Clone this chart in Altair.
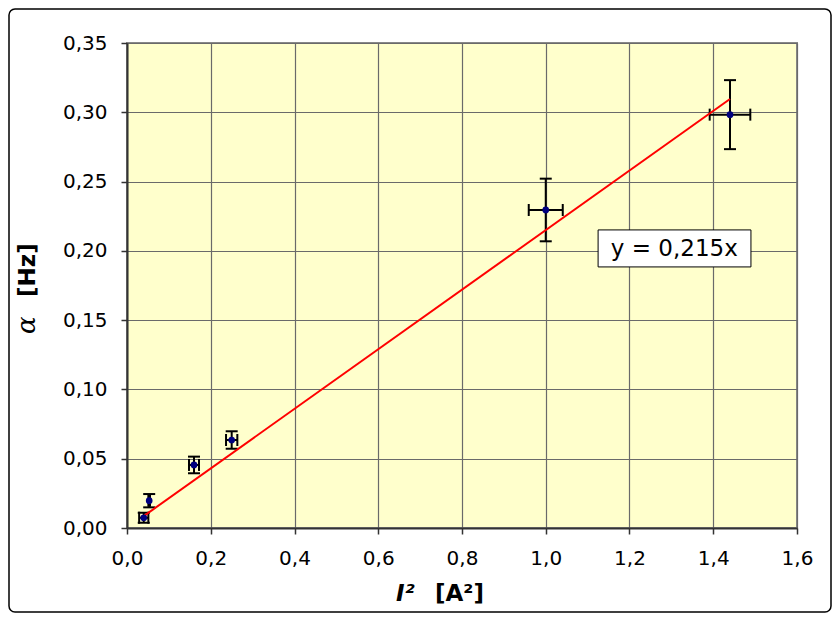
import altair as alt
import pandas as pd

# ---- data ----
x_vals = [0.04, 0.053, 0.16, 0.25, 1.00, 1.44]
y_vals = [0.0074, 0.0197, 0.0455, 0.0635, 0.2295, 0.2983]
x_err = [0.011, 0.002, 0.012, 0.0135, 0.0406, 0.0485]
y_err = [0.0036, 0.0048, 0.0060, 0.0063, 0.0226, 0.0249]
slope = 0.215
fit_x = [0.04, 1.44]
x_ticks = [0.0, 0.2, 0.4, 0.6, 0.8, 1.0, 1.2, 1.4, 1.6]
y_ticks = [0.0, 0.05, 0.10, 0.15, 0.20, 0.25, 0.30, 0.35]
label_text = "y = 0,215x"
label_box_x = [1.125, 1.490]
label_box_y = [0.1884, 0.2151]
label_pos = [1.307, 0.2017]
x_title_a = "I²"
x_title_b = "[A²]"
y_title_a = "α"
y_title_b = "[Hz]"

W, H = 670, 485
FONT = "DejaVu Sans"

df = pd.DataFrame({"x": x_vals, "y": y_vals, "xe": x_err, "ye": y_err})
df["xlo"] = df.x - df.xe
df["xhi"] = df.x + df.xe
df["ylo"] = df.y - df.ye
df["yhi"] = df.y + df.ye

fit = pd.DataFrame({"x": fit_x, "y": [slope * v for v in fit_x]})

xs = alt.Scale(domain=[0, 1.6], nice=False, zero=False)
ys = alt.Scale(domain=[0, 0.35], nice=False, zero=False)

xax = alt.Axis(values=x_ticks, title=None, grid=True, labelFlush=False,
               labelExpr="replace(format(datum.value, '.1f'), '.', ',')",
               tickSize=6, labelPadding=14)
yax = alt.Axis(values=y_ticks, title=None, grid=True, labelFlush=False,
               labelExpr="replace(format(datum.value, '.2f'), '.', ',')",
               tickSize=6, labelPadding=14)

base = alt.Chart(df)

axes = base.mark_point(opacity=0).encode(
    x=alt.X("x:Q", scale=xs, axis=xax),
    y=alt.Y("y:Q", scale=ys, axis=yax),
)

xbar = base.mark_rule(color="black", strokeWidth=2).encode(
    x=alt.X("xlo:Q", scale=xs), x2="xhi:Q", y=alt.Y("y:Q", scale=ys))
ybar = base.mark_rule(color="black", strokeWidth=2).encode(
    y=alt.Y("ylo:Q", scale=ys), y2="yhi:Q", x=alt.X("x:Q", scale=xs))

xcap_lo = base.mark_tick(orient="vertical", size=12, thickness=2, color="black", opacity=1).encode(
    x=alt.X("xlo:Q", scale=xs), y=alt.Y("y:Q", scale=ys))
xcap_hi = base.mark_tick(orient="vertical", size=12, thickness=2, color="black", opacity=1).encode(
    x=alt.X("xhi:Q", scale=xs), y=alt.Y("y:Q", scale=ys))
ycap_lo = base.mark_tick(orient="horizontal", size=12, thickness=2, color="black", opacity=1).encode(
    x=alt.X("x:Q", scale=xs), y=alt.Y("ylo:Q", scale=ys))
ycap_hi = base.mark_tick(orient="horizontal", size=12, thickness=2, color="black", opacity=1).encode(
    x=alt.X("x:Q", scale=xs), y=alt.Y("yhi:Q", scale=ys))

line = alt.Chart(fit).mark_line(color="#FF0000", strokeWidth=2).encode(
    x=alt.X("x:Q", scale=xs), y=alt.Y("y:Q", scale=ys))

pts = base.mark_point(filled=True, color="#000080", size=45, opacity=1).encode(
    x=alt.X("x:Q", scale=xs), y=alt.Y("y:Q", scale=ys))

box = alt.Chart(pd.DataFrame({"x0": [label_box_x[0]], "x1": [label_box_x[1]],
                              "y0": [label_box_y[0]], "y1": [label_box_y[1]]})).mark_rect(
    fill="white", stroke="black", strokeWidth=1).encode(
    x=alt.X("x0:Q", scale=xs), x2="x1:Q", y=alt.Y("y0:Q", scale=ys), y2="y1:Q")
box_text = alt.Chart(pd.DataFrame({"x": [label_pos[0]], "y": [label_pos[1]], "t": [label_text]})).mark_text(
    font=FONT, fontSize=23, color="black", align="center", baseline="middle").encode(
    x=alt.X("x:Q", scale=xs), y=alt.Y("y:Q", scale=ys), text="t:N")

def txt(s, x, y, **kw):
    return alt.Chart(pd.DataFrame({"t": [s]})).mark_text(color="black", **kw).encode(
        x=alt.value(x), y=alt.value(y), text="t:N")

xt1 = txt(x_title_a, 269, 558, font=FONT, fontSize=23, fontWeight="bold", fontStyle="italic",
          align="left", baseline="alphabetic")
xt2 = txt(x_title_b, 308, 558, font=FONT, fontSize=23, fontWeight="bold",
          align="left", baseline="alphabetic")
yt1 = txt(y_title_a, -92, 291, font="DejaVu Serif", fontSize=26, fontStyle="italic",
          angle=270, align="left", baseline="alphabetic")
yt2 = txt(y_title_b, -92, 254, font=FONT, fontSize=23, fontWeight="bold",
          angle=270, align="left", baseline="alphabetic")

border = alt.Chart(pd.DataFrame({"a": [0]})).mark_rect(
    fillOpacity=0, fill="white", stroke="black", strokeWidth=1.5, cornerRadius=6).encode(
    x=alt.value(-118), x2=alt.value(W + 34), y=alt.value(-34), y2=alt.value(H + 84))

chart = alt.layer(
    border, axes, xbar, ybar, xcap_lo, xcap_hi, ycap_lo, ycap_hi, line, pts,
    box, box_text, xt1, xt2, yt1, yt2
).properties(
    width=W, height=H,
    autosize=alt.AutoSizeParams(type="none"),
    padding={"left": 119, "top": 35, "right": 35, "bottom": 85},
    background="white",
).configure_view(
    fill="#FFFFCC", stroke="#888888", strokeWidth=2
).configure_axis(
    labelFont=FONT, labelFontSize=20, labelColor="black",
    gridColor="#6a6a6a", gridWidth=1.2, gridOpacity=1,
    domainColor="#333333", domainWidth=2,
    tickColor="#333333", tickWidth=1.5,
)

chart.save("out.html", embed_options={"renderer": "svg", "actions": False})
